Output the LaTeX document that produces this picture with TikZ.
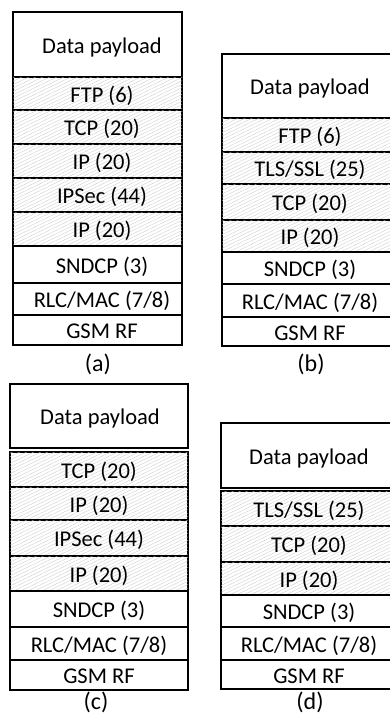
\documentclass[tikz,border=0pt]{standalone}
\usepackage{fontspec}
\setmainfont{Carlito}
\usetikzlibrary{patterns.meta}
\tikzdeclarepattern{name=hatchpat, type=uncolored,
  bottom left={(-.1pt,-.1pt)}, top right={(7pt,3.4pt)}, tile size={(7pt,3.4pt)},
  code={\draw[line width=.3pt] (0,0) -- (7pt,3.4pt);}}
\tikzset{
  plain/.style={draw=black, line width=1.4pt, fill=white},
  hatched/.style={draw=black, line width=1.4pt, fill=white, postaction={pattern={hatchpat}, pattern color=black!22}},
  txt/.style={font=\fontsize{22.5}{26}\selectfont, inner sep=0pt, anchor=base},
  figlabel/.style={font=\fontsize{24}{28}\selectfont, inner sep=0pt, anchor=base}
}
% name, x1, x2, y1, y2, style, text, text x
\newcommand\lyr[8]{%
  \path[#6] (#2,#4) rectangle (#3,#5);
  \node[txt] (#1) at (#8,{(#4+#5)/2+8.5}) {#7};}
\begin{document}
\begin{tikzpicture}[x=1pt,y=-1pt]
\useasboundingbox (0,0) rectangle (390,720);
\clip (0,0) rectangle (390,720);
% (a)
\lyr{a0}{13}{182}{12}{77}{plain}{Data payload}{102}
\lyr{a1}{13}{182}{77}{110}{hatched}{FTP (6)}{102}
\lyr{a2}{13}{182}{110}{144}{hatched}{TCP (20)}{102}
\lyr{a3}{13}{182}{144}{178}{hatched}{IP (20)}{102}
\lyr{a4}{13}{182}{178}{212}{hatched}{IPSec (44)}{102}
\lyr{a5}{13}{182}{212}{246}{hatched}{IP (20)}{102}
\lyr{a6}{13}{182}{246}{283}{plain}{SNDCP (3)}{102}
\lyr{a7}{13}{182}{283}{315}{plain}{RLC/MAC (7/8)}{102}
\lyr{a8}{13}{182}{315}{345}{plain}{GSM RF}{102}
\node[figlabel] (la) at (98,371) {(a)};
% (b)
\lyr{b0}{222}{398}{54}{118}{plain}{Data payload}{310}
\lyr{b1}{222}{398}{118}{152}{hatched}{FTP (6)}{310}
\lyr{b2}{222}{398}{152}{184}{hatched}{TLS/SSL (25)}{310}
\lyr{b3}{222}{398}{184}{220}{hatched}{TCP (20)}{310}
\lyr{b4}{222}{398}{220}{252}{hatched}{IP (20)}{310}
\lyr{b5}{222}{398}{252}{284}{plain}{SNDCP (3)}{310}
\lyr{b6}{222}{398}{284}{317}{plain}{RLC/MAC (7/8)}{310}
\lyr{b7}{222}{398}{317}{346}{plain}{GSM RF}{310}
\node[figlabel] (lb) at (311,371) {(b)};
% (c)
\lyr{c0}{10}{188}{384}{448}{plain}{Data payload}{100}
\lyr{c1}{10}{188}{452}{487}{hatched}{TCP (20)}{99}
\lyr{c2}{10}{188}{487}{520}{hatched}{IP (20)}{99}
\lyr{c3}{10}{188}{520}{556}{hatched}{IPSec (44)}{99}
\lyr{c4}{10}{188}{556}{591}{hatched}{IP (20)}{99}
\lyr{c5}{10}{188}{591}{627}{plain}{SNDCP (3)}{99}
\lyr{c6}{10}{188}{627}{660}{plain}{RLC/MAC (7/8)}{99}
\lyr{c7}{10}{188}{660}{690}{plain}{GSM RF}{99}
\node[figlabel] (lc) at (96,709) {(c)};
% (d)
\lyr{d0}{221}{398}{423}{488}{plain}{Data payload}{309}
\lyr{d1}{221}{398}{491}{526}{hatched}{TLS/SSL (25)}{309}
\lyr{d2}{221}{398}{526}{562}{hatched}{TCP (20)}{309}
\lyr{d3}{221}{398}{562}{595}{hatched}{IP (20)}{309}
\lyr{d4}{221}{398}{595}{627}{plain}{SNDCP (3)}{309}
\lyr{d5}{221}{398}{627}{660}{plain}{RLC/MAC (7/8)}{309}
\lyr{d6}{221}{398}{660}{689}{plain}{GSM RF}{309}
\node[figlabel] (ld) at (310,709) {(d)};
\end{tikzpicture}
\end{document}
